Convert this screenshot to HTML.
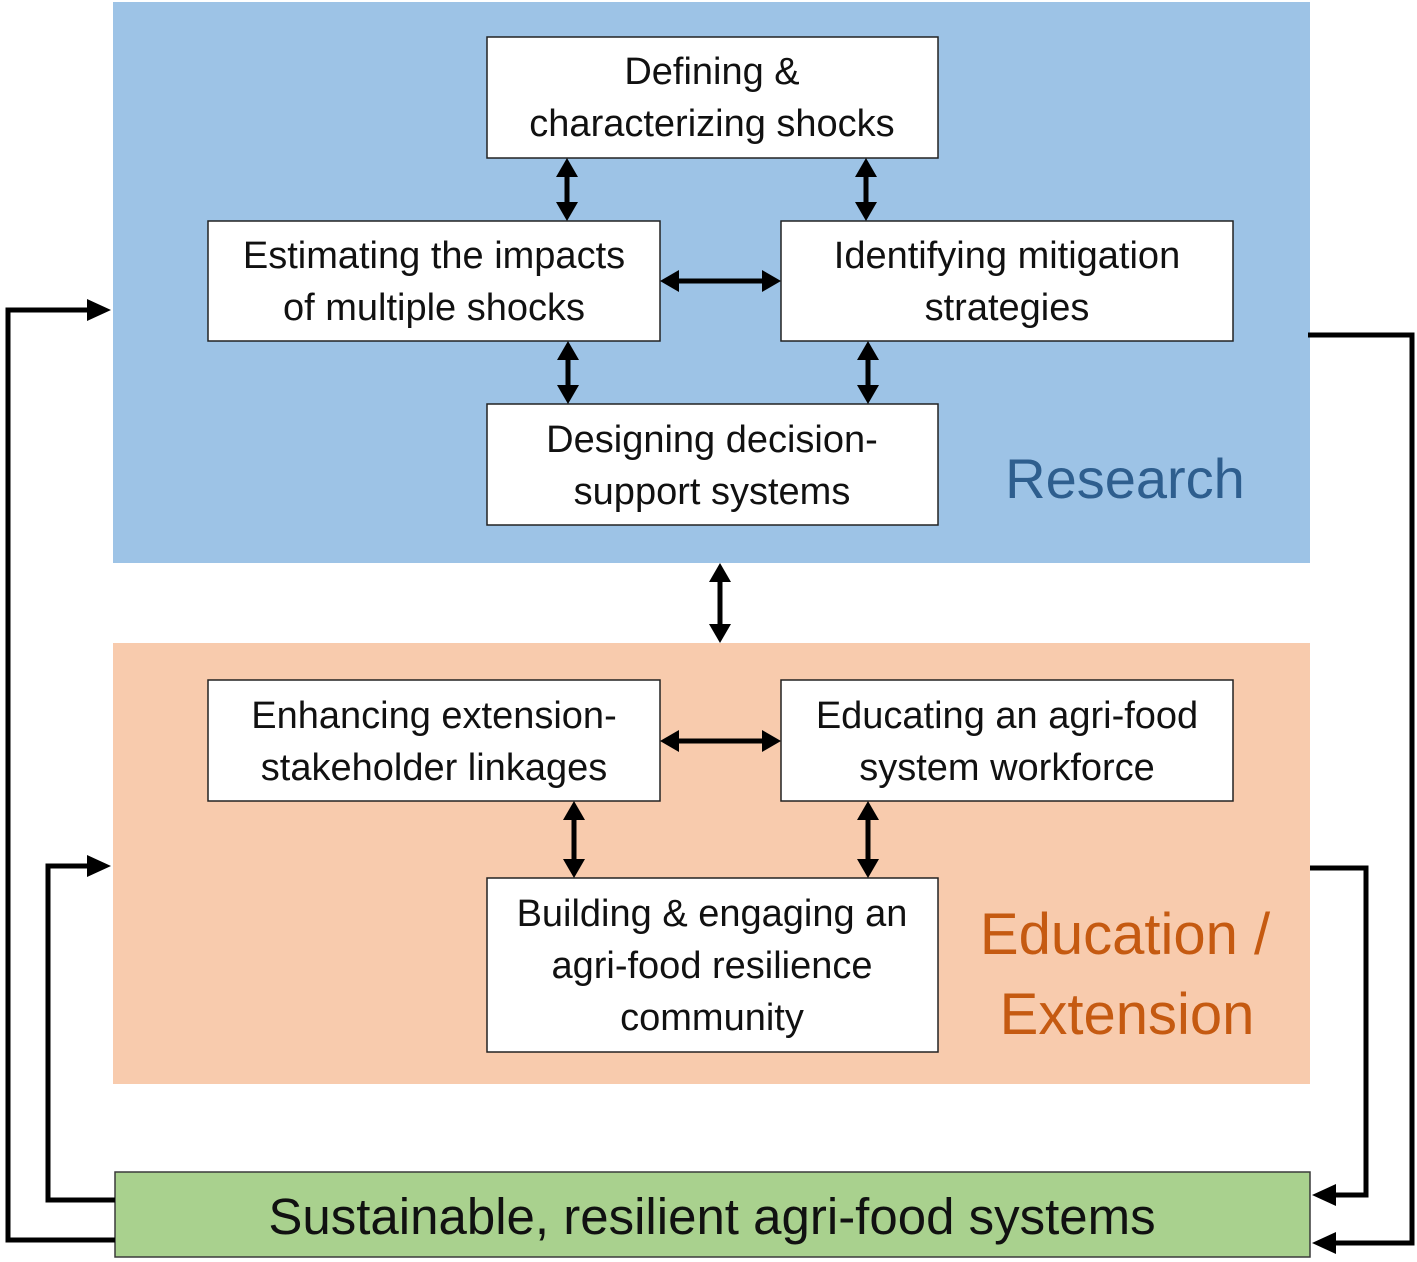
<!DOCTYPE html>
<html><head><meta charset="utf-8"><style>
html,body{margin:0;padding:0;background:#fff;}
svg{display:block;}
text{font-family:"Liberation Sans",sans-serif;}
</style></head><body>
<svg width="1417" height="1262" viewBox="0 0 1417 1262" xmlns="http://www.w3.org/2000/svg">
<rect x="113" y="2" width="1197" height="561" fill="#9dc3e6"/>
<rect x="113" y="643" width="1197" height="441" fill="#f8cbad"/>
<rect x="115" y="1172" width="1195" height="85" fill="#a9d18e" stroke="#3a3a3a" stroke-width="1.5"/>

<g fill="#fff" stroke="#222" stroke-width="1.5">
<rect x="487" y="37" width="451" height="121"/>
<rect x="208" y="221" width="452" height="120"/>
<rect x="781" y="221" width="452" height="120"/>
<rect x="487" y="404" width="451" height="121"/>
<rect x="208" y="680" width="452" height="121"/>
<rect x="781" y="680" width="452" height="121"/>
<rect x="487" y="878" width="451" height="174"/>
</g>

<g font-size="38" fill="#111" text-anchor="middle">
<text x="712" y="84">Defining &amp;</text>
<text x="712" y="136">characterizing shocks</text>
<text x="434" y="268">Estimating the impacts</text>
<text x="434" y="320">of multiple shocks</text>
<text x="1007" y="268">Identifying mitigation</text>
<text x="1007" y="320">strategies</text>
<text x="712" y="452">Designing decision-</text>
<text x="712" y="504">support systems</text>
<text x="434" y="728">Enhancing extension-</text>
<text x="434" y="780">stakeholder linkages</text>
<text x="1007" y="728">Educating an agri-food</text>
<text x="1007" y="780">system workforce</text>
<text x="712" y="926">Building &amp; engaging an</text>
<text x="712" y="978">agri-food resilience</text>
<text x="712" y="1030">community</text>
</g>
<text x="1125" y="498" font-size="56" fill="#2e5e8e" text-anchor="middle">Research</text>
<text x="1125" y="954" font-size="58" fill="#c55a11" text-anchor="middle">Education  /</text>
<text x="1127" y="1034" font-size="58" fill="#c55a11" text-anchor="middle">Extension</text>
<text x="712" y="1234" font-size="51" fill="#111" text-anchor="middle">Sustainable, resilient agri-food systems</text>

<g stroke="#000" stroke-width="5" fill="none">
<line x1="567" y1="175" x2="567" y2="204"/>
<line x1="866" y1="175" x2="866" y2="204"/>
<line x1="568" y1="358" x2="568" y2="387"/>
<line x1="868" y1="358" x2="868" y2="387"/>
<line x1="720" y1="580" x2="720" y2="626"/>
<line x1="574" y1="818" x2="574" y2="861"/>
<line x1="868" y1="818" x2="868" y2="861"/>
<line x1="677" y1="281" x2="764" y2="281"/>
<line x1="677" y1="741" x2="764" y2="741"/>
<polyline points="115,1240 8,1240 8,310 90,310"/>
<polyline points="115,1200 48,1200 48,866 90,866"/>
<polyline points="1308,335 1412,335 1412,1243 1332,1243"/>
<polyline points="1310,868 1366,868 1366,1195 1332,1195"/>
</g>
<g fill="#000">
<polygon points="567,158 556,177 578,177"/><polygon points="567,221 556,202 578,202"/>
<polygon points="866,158 855,177 877,177"/><polygon points="866,221 855,202 877,202"/>
<polygon points="568,341 557,360 579,360"/><polygon points="568,404 557,385 579,385"/>
<polygon points="868,341 857,360 879,360"/><polygon points="868,404 857,385 879,385"/>
<polygon points="720,563 709,582 731,582"/><polygon points="720,643 709,624 731,624"/>
<polygon points="574,801 563,820 585,820"/><polygon points="574,878 563,859 585,859"/>
<polygon points="868,801 857,820 879,820"/><polygon points="868,878 857,859 879,859"/>
<polygon points="660,281 679,270 679,292"/><polygon points="781,281 762,270 762,292"/>
<polygon points="660,741 679,730 679,752"/><polygon points="781,741 762,730 762,752"/>
<polygon points="111,310 87,299 87,321"/>
<polygon points="111,866 87,855 87,877"/>
<polygon points="1312,1243 1336,1232 1336,1254"/>
<polygon points="1312,1195 1336,1184 1336,1206"/>
</g>
</svg>
</body></html>
